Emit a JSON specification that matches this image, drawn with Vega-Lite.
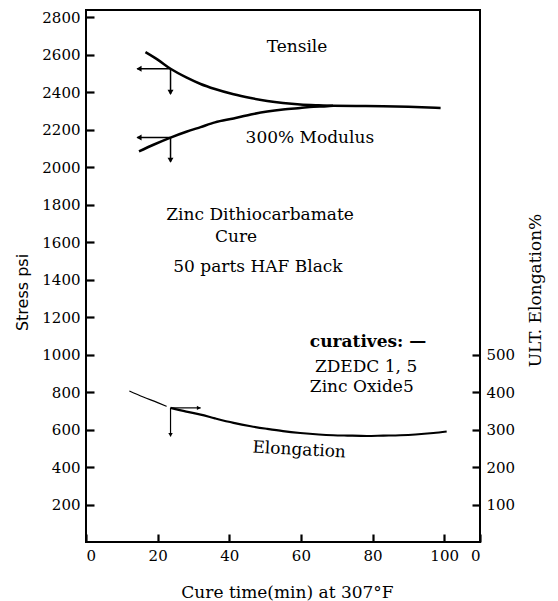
{
  "$schema": "https://vega.github.io/schema/vega-lite/v6.json",
  "autosize": {"type": "none"},
  "width": 394,
  "height": 532,
  "padding": {"left": 86, "top": 10, "right": 78, "bottom": 59},
  "background": "white",
  "config": {
    "view": {"stroke": "black", "strokeWidth": 2},
    "axis": {
      "domain": false, "ticks": true, "offset": -8, "zindex": 2,
      "tickColor": "black", "tickWidth": 2.2, "tickSize": 8, "tickOpacity": 1,
      "labelFont": "DejaVu Serif", "labelFontSize": 15, "labelColor": "black",
      "labelPadding": 6, "grid": false, "format": "d",
      "titleFont": "DejaVu Serif", "titleFontSize": 17, "titleFontWeight": "normal", "titleColor": "black"
    }
  },
  "datasets": {
    "curves": [
      {"series": "Tensile", "t": 16.6, "v": 2615},
      {"series": "Tensile", "t": 20, "v": 2575},
      {"series": "Tensile", "t": 23.6, "v": 2526},
      {"series": "Tensile", "t": 28, "v": 2480},
      {"series": "Tensile", "t": 32, "v": 2445},
      {"series": "Tensile", "t": 36, "v": 2418},
      {"series": "Tensile", "t": 41.2, "v": 2390},
      {"series": "Tensile", "t": 46, "v": 2370},
      {"series": "Tensile", "t": 50.6, "v": 2354},
      {"series": "Tensile", "t": 55, "v": 2343},
      {"series": "Tensile", "t": 59.8, "v": 2335},
      {"series": "Tensile", "t": 65, "v": 2331},
      {"series": "Tensile", "t": 69, "v": 2329},
      {"series": "Tensile", "t": 76, "v": 2328},
      {"series": "Tensile", "t": 83, "v": 2326},
      {"series": "Tensile", "t": 90, "v": 2323},
      {"series": "Tensile", "t": 99, "v": 2317},
      {"series": "Modulus", "t": 14.8, "v": 2085},
      {"series": "Modulus", "t": 19, "v": 2122},
      {"series": "Modulus", "t": 23.6, "v": 2159},
      {"series": "Modulus", "t": 28, "v": 2190},
      {"series": "Modulus", "t": 32, "v": 2215},
      {"series": "Modulus", "t": 36, "v": 2240},
      {"series": "Modulus", "t": 41.2, "v": 2261},
      {"series": "Modulus", "t": 46, "v": 2282},
      {"series": "Modulus", "t": 50.6, "v": 2298},
      {"series": "Modulus", "t": 55, "v": 2309},
      {"series": "Modulus", "t": 59.8, "v": 2317},
      {"series": "Modulus", "t": 63.5, "v": 2323},
      {"series": "Modulus", "t": 67.3, "v": 2326},
      {"series": "Modulus", "t": 69, "v": 2329},
      {"series": "Elong1", "t": 12.1, "v": 403},
      {"series": "Elong1", "t": 16, "v": 387},
      {"series": "Elong1", "t": 20, "v": 372},
      {"series": "Elong1", "t": 22.5, "v": 362},
      {"series": "Elong2", "t": 23.6, "v": 358},
      {"series": "Elong2", "t": 28, "v": 348},
      {"series": "Elong2", "t": 32, "v": 340},
      {"series": "Elong2", "t": 36, "v": 330},
      {"series": "Elong2", "t": 41.2, "v": 318},
      {"series": "Elong2", "t": 46, "v": 309},
      {"series": "Elong2", "t": 50.6, "v": 302},
      {"series": "Elong2", "t": 55, "v": 296},
      {"series": "Elong2", "t": 59.8, "v": 291},
      {"series": "Elong2", "t": 65, "v": 287},
      {"series": "Elong2", "t": 69, "v": 285},
      {"series": "Elong2", "t": 73, "v": 284},
      {"series": "Elong2", "t": 78.4, "v": 283},
      {"series": "Elong2", "t": 83, "v": 284},
      {"series": "Elong2", "t": 87.7, "v": 285},
      {"series": "Elong2", "t": 92, "v": 287},
      {"series": "Elong2", "t": 97, "v": 291},
      {"series": "Elong2", "t": 100.7, "v": 295}
    ],
    "arrows": [
      {"g": "stress", "t": 23.6, "t2": 14.3, "v": 2526, "v2": 2526},
      {"g": "stress", "t": 23.6, "t2": 23.6, "v": 2526, "v2": 2392},
      {"g": "stress", "t": 23.6, "t2": 14.3, "v": 2159, "v2": 2159},
      {"g": "stress", "t": 23.6, "t2": 23.6, "v": 2159, "v2": 2030},
      {"g": "elong", "t": 23.6, "t2": 32, "v": 358, "v2": 358},
      {"g": "elong", "t": 23.6, "t2": 23.6, "v": 358, "v2": 282}
    ],
    "heads": [
      {"g": "stress", "t": 14.8, "v": 2526, "dir": "left"},
      {"g": "stress", "t": 23.6, "v": 2400, "dir": "down"},
      {"g": "stress", "t": 14.8, "v": 2159, "dir": "left"},
      {"g": "stress", "t": 23.6, "v": 2038, "dir": "down"},
      {"g": "elong", "t": 31.5, "v": 358, "dir": "right"},
      {"g": "elong", "t": 23.6, "v": 286, "dir": "down"}
    ],
    "labels": [
      {"kind": "center", "label": "Tensile", "t": 58.9, "v": 2643},
      {"kind": "center", "label": "300% Modulus", "t": 62.5, "v": 2157},
      {"kind": "center", "label": "Zinc Dithiocarbamate", "t": 48.6, "v": 1746},
      {"kind": "center", "label": "Cure", "t": 41.9, "v": 1628},
      {"kind": "center", "label": "50 parts HAF Black", "t": 48.0, "v": 1468},
      {"kind": "tilt", "label": "Elongation", "t": 59.5, "v": 491},
      {"kind": "bold", "label": "curatives: —", "t": 62.5, "v": 1068},
      {"kind": "left", "label": "ZDEDC 1, 5", "t": 63.9, "v": 934},
      {"kind": "left", "label": "Zinc Oxide5", "t": 62.5, "v": 827}
    ]
  },
  "layer": [
    {
      "layer": [
        {
          "data": {"name": "curves"},
          "transform": [{"filter": "datum.series == 'Tensile' || datum.series == 'Modulus'"}],
          "mark": {"type": "line", "color": "black", "strokeWidth": 2.5, "interpolate": "monotone"},
          "encoding": {
            "x": {"field": "t", "type": "quantitative", "scale": {"domain": [0, 110], "nice": false},
              "axis": {"title": "Cure time(min) at 307°F", "values": [0, 20, 40, 60, 80, 100, 110],
                "labelExpr": "datum.value == 110 ? '0' : datum.label",
                "titleX": 201, "titleY": 58, "titleBaseline": "middle", "titleAlign": "center"}},
            "y": {"field": "v", "type": "quantitative", "scale": {"domain": [0, 2840], "nice": false},
              "axis": {"title": "Stress psi", "titleFont": "DejaVu Sans", "titleFontSize": 16,
                "values": [200, 400, 600, 800, 1000, 1200, 1400, 1600, 1800, 2000, 2200, 2400, 2600, 2800],
                "titleX": -72, "titleY": 282, "titleAngle": -90, "titleBaseline": "middle", "titleAlign": "center"}},
            "detail": {"field": "series"}
          }
        },
        {
          "data": {"name": "arrows"},
          "transform": [{"filter": "datum.g == 'stress'"}],
          "mark": {"type": "rule", "color": "black", "strokeWidth": 1.5},
          "encoding": {
            "x": {"field": "t", "type": "quantitative"},
            "x2": {"field": "t2"},
            "y": {"field": "v", "type": "quantitative"},
            "y2": {"field": "v2"}
          }
        },
        {
          "data": {"name": "heads"},
          "transform": [{"filter": "datum.g == 'stress'"}],
          "mark": {"type": "point", "filled": true, "color": "black", "size": 35, "opacity": 1},
          "encoding": {
            "x": {"field": "t", "type": "quantitative"},
            "y": {"field": "v", "type": "quantitative"},
            "shape": {"field": "dir", "type": "nominal", "legend": null,
              "scale": {"domain": ["left", "right", "down"], "range": ["triangle-left", "triangle-right", "triangle-down"]}}
          }
        },
        {
          "data": {"name": "labels"},
          "transform": [{"filter": "datum.kind == 'center'"}],
          "mark": {"type": "text", "font": "DejaVu Serif", "fontSize": 17, "align": "center", "baseline": "middle", "color": "black"},
          "encoding": {
            "x": {"field": "t", "type": "quantitative"},
            "y": {"field": "v", "type": "quantitative"},
            "text": {"field": "label"}
          }
        },
        {
          "data": {"name": "labels"},
          "transform": [{"filter": "datum.kind == 'tilt'"}],
          "mark": {"type": "text", "font": "DejaVu Serif", "fontSize": 17, "align": "center", "baseline": "middle", "color": "black", "angle": 3},
          "encoding": {
            "x": {"field": "t", "type": "quantitative"},
            "y": {"field": "v", "type": "quantitative"},
            "text": {"field": "label"}
          }
        },
        {
          "data": {"name": "labels"},
          "transform": [{"filter": "datum.kind == 'left'"}],
          "mark": {"type": "text", "font": "DejaVu Serif", "fontSize": 17, "align": "left", "baseline": "middle", "color": "black"},
          "encoding": {
            "x": {"field": "t", "type": "quantitative"},
            "y": {"field": "v", "type": "quantitative"},
            "text": {"field": "label"}
          }
        },
        {
          "data": {"name": "labels"},
          "transform": [{"filter": "datum.kind == 'bold'"}],
          "mark": {"type": "text", "font": "DejaVu Serif", "fontSize": 17, "fontWeight": "bold", "align": "left", "baseline": "middle", "color": "black"},
          "encoding": {
            "x": {"field": "t", "type": "quantitative"},
            "y": {"field": "v", "type": "quantitative"},
            "text": {"field": "label"}
          }
        }
      ]
    },
    {
      "layer": [
        {
          "data": {"name": "curves"},
          "transform": [{"filter": "datum.series == 'Elong1' || datum.series == 'Elong2'"}],
          "mark": {"type": "line", "color": "black", "interpolate": "monotone"},
          "encoding": {
            "x": {"field": "t", "type": "quantitative"},
            "y": {"field": "v", "type": "quantitative", "scale": {"domain": [0, 1420], "nice": false},
              "axis": {"orient": "right", "title": "ULT. Elongation%", "values": [100, 200, 300, 400, 500],
                "titleX": 63, "titleY": 280, "titleAngle": -90, "titleBaseline": "middle", "titleAlign": "center"}},
            "detail": {"field": "series"},
            "strokeWidth": {"field": "series", "type": "nominal", "legend": null,
              "scale": {"domain": ["Elong1", "Elong2"], "range": [1.2, 2.2]}}
          }
        },
        {
          "data": {"name": "arrows"},
          "transform": [{"filter": "datum.g == 'elong'"}],
          "mark": {"type": "rule", "color": "black", "strokeWidth": 1.2},
          "encoding": {
            "x": {"field": "t", "type": "quantitative"},
            "x2": {"field": "t2"},
            "y": {"field": "v", "type": "quantitative"},
            "y2": {"field": "v2"}
          }
        },
        {
          "data": {"name": "heads"},
          "transform": [{"filter": "datum.g == 'elong'"}],
          "mark": {"type": "point", "filled": true, "color": "black", "size": 20, "opacity": 1},
          "encoding": {
            "x": {"field": "t", "type": "quantitative"},
            "y": {"field": "v", "type": "quantitative"},
            "shape": {"field": "dir", "type": "nominal", "legend": null,
              "scale": {"domain": ["left", "right", "down"], "range": ["triangle-left", "triangle-right", "triangle-down"]}}
          }
        }
      ]
    }
  ],
  "resolve": {"scale": {"y": "independent", "shape": "independent", "strokeWidth": "independent"}}
}
